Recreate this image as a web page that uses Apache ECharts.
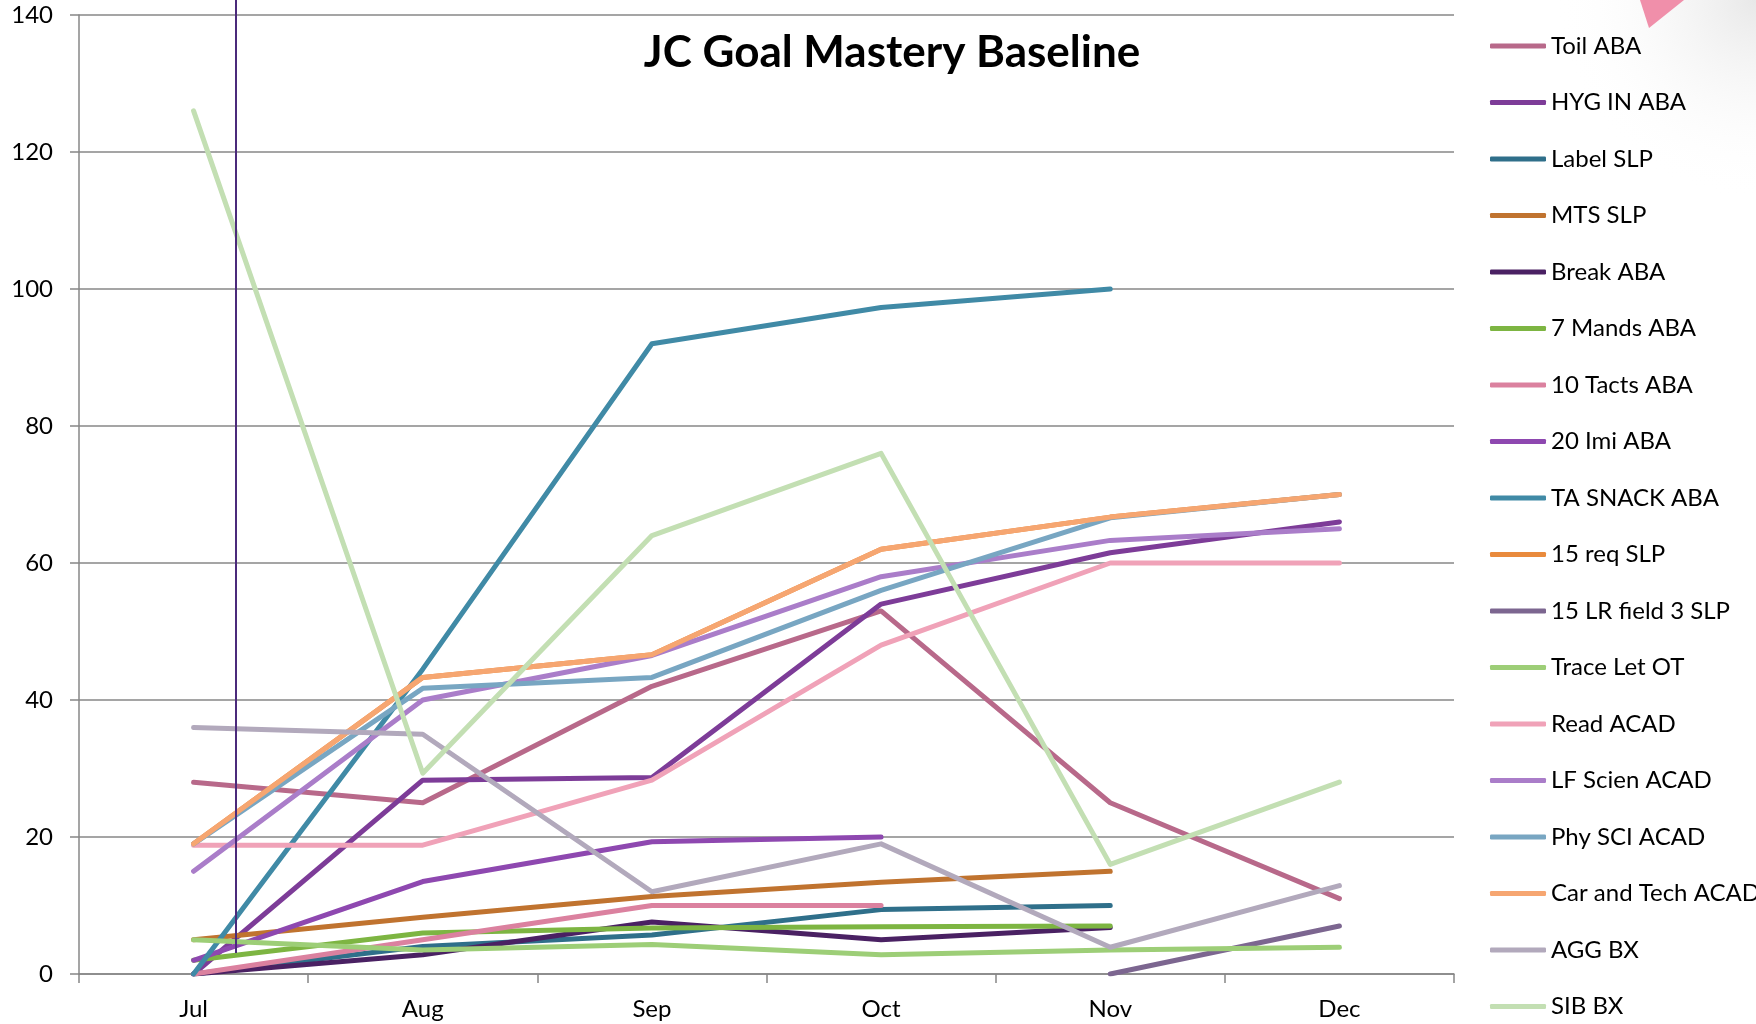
<!DOCTYPE html>
<html>
<head>
<meta charset="utf-8">
<script src="https://cdn.jsdelivr.net/npm/echarts@6/dist/echarts.min.js"></script>
<style>
html,body{margin:0;padding:0;background:#fff;}
#chart{width:1756px;height:1024px;}
</style>
</head>
<body>
<div id="chart"></div>
<script>
const months = ['Jul', 'Aug', 'Sep', 'Oct', 'Nov', 'Dec'];
const yTicks = [0, 20, 40, 60, 80, 100, 120, 140];

const seriesNames = ['Toil ABA', 'HYG IN ABA', 'Label SLP', 'MTS SLP', 'Break ABA', '7 Mands ABA',
  '10 Tacts ABA', '20 Imi ABA', 'TA SNACK ABA', '15 req SLP', '15 LR field 3 SLP', 'Trace Let OT',
  'Read ACAD', 'LF Scien ACAD', 'Phy SCI ACAD', 'Car and Tech ACAD', 'AGG BX', 'SIB BX'];

const toilABA      = [28, 25, 42, 53, 25, 11];
const hygInABA     = [0, 28.3, 28.7, 54, 61.5, 66];
const labelSLP     = [0, 4, 5.7, 9.4, 10, null];
const mtsSLP       = [5, 8.3, 11.3, 13.4, 15, null];
const breakABA     = [0, 2.8, 7.6, 5, 6.8, null];
const mands7ABA    = [2, 6, 6.7, 6.9, 7, null];
const tacts10ABA   = [0, 5, 10, 10, null, null];
const imi20ABA     = [2, 13.5, 19.3, 20, null, null];
const taSnackABA   = [0, 44.5, 92, 97.3, 100, null];
const req15SLP     = [19, 43.3, 46.6, 62, 66.7, 70];
const lrField3SLP  = [null, null, null, null, 0, 7];
const traceLetOT   = [5, 3.5, 4.3, 2.8, 3.5, 3.9];
const readACAD     = [18.8, 18.8, 28.3, 48, 60, 60];
const lfScienACAD  = [15, 40, 46.5, 58, 63.3, 65];
const phySciACAD   = [19, 41.7, 43.3, 56, 66.6, 70];
const carTechACAD  = [19, 43.3, 46.6, 62, 66.7, 70];
const aggBX        = [36, 35, 12, 19, 3.9, 12.9];
const sibBX        = [126, 29.3, 64, 76, 16, 28];

const seriesValues = [toilABA, hygInABA, labelSLP, mtsSLP, breakABA, mands7ABA, tacts10ABA, imi20ABA,
  taSnackABA, req15SLP, lrField3SLP, traceLetOT, readACAD, lfScienACAD, phySciACAD, carTechACAD, aggBX, sibBX];

const seriesColors = ['#B8698A', '#7D3C98', '#2F6F8A', '#C0732F', '#4A2163', '#7DB542',
  '#DB819F', '#8E48B0', '#408AA6', '#E98A3C', '#7C6690', '#9DCE77',
  '#F0A2B8', '#AA7DC9', '#78A6C2', '#F6A671', '#B2A9BC', '#C3DFB3'];

const FONT = 'Lato';
const chart = echarts.init(document.getElementById('chart'), null, {renderer: 'canvas'});

const series = seriesNames.map((name, i) => ({
  name: name,
  type: 'line',
  data: seriesValues[i],
  showSymbol: false,
  symbol: 'none',
  connectNulls: false,
  animation: false,
  lineStyle: {width: 5, color: seriesColors[i], cap: 'round', join: 'round'},
  itemStyle: {color: seriesColors[i]},
  emphasis: {disabled: true},
  z: 2 + i
}));

chart.setOption({
  backgroundColor: '#ffffff',
  animation: false,
  title: {
    text: 'JC Goal Mastery Baseline',
    left: 887, top: 26, textAlign: 'center',
    textStyle: {fontFamily: FONT, fontWeight: 'bold', fontSize: 44, color: '#000'}
  },
  grid: {left: 79, top: 15, width: 1375, height: 959, containLabel: false},
  legend: {
    orient: 'vertical',
    left: 1490, top: 33,
    padding: 0,
    height: 1000,
    itemWidth: 56, itemHeight: 5,
    itemGap: 30.5,
    icon: 'roundRect',
    textStyle: {fontFamily: FONT, fontSize: 24, color: '#000', lineHeight: 26},
    data: seriesNames
  },
  xAxis: {
    type: 'category',
    data: months,
    boundaryGap: true,
    axisLine: {lineStyle: {color: '#878787', width: 1.5}},
    axisTick: {show: true, length: 9, lineStyle: {color: '#878787', width: 1.5}},
    axisLabel: {fontFamily: FONT, fontSize: 24, color: '#000', margin: 23},
    splitLine: {show: false}
  },
  yAxis: {
    type: 'value',
    min: yTicks[0], max: yTicks[yTicks.length - 1], interval: 20,
    axisLine: {show: true, lineStyle: {color: '#878787', width: 1.5}},
    axisTick: {show: true, length: 9, lineStyle: {color: '#878787', width: 1.5}},
    axisLabel: {fontFamily: FONT, fontSize: 24, color: '#000', margin: 26},
    splitLine: {show: true, lineStyle: {color: '#878787', width: 1.5}}
  },
  graphic: [
    {type: 'rect', shape: {x: 1556, y: 0, width: 200, height: 220}, z: -10, silent: true,
      style: {fill: new echarts.graphic.RadialGradient(1, 0, 1, [
        {offset: 0, color: 'rgba(228,228,228,0.85)'},
        {offset: 1, color: 'rgba(255,255,255,0)'}
      ])}},
    {type: 'line', shape: {x1: 236, y1: 0, x2: 236, y2: 953}, style: {stroke: '#4B2A7B', lineWidth: 2}, z: 100},
    {type: 'polygon', shape: {points: [[1640, 0], [1684, 0], [1649, 28]]}, style: {fill: '#F08FAA'}, z: 100}
  ],
  series: series
});
</script>
</body>
</html>
